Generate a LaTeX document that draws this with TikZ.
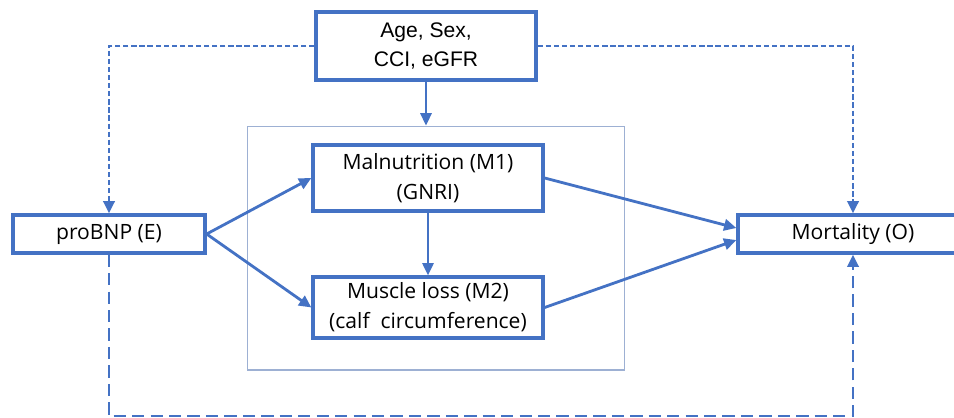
\documentclass[tikz,border=0pt]{standalone}
\usepackage{fontspec}
\setmainfont{Open Sans}
\newfontfamily\conffont{Liberation Sans}
\usetikzlibrary{arrows.meta}
\definecolor{pathblue}{HTML}{4472C4}
\definecolor{framegray}{HTML}{9DB0D3}

\begin{document}
\begin{tikzpicture}[x=0.02cm,y=-0.02cm,
  varbox/.style={draw=pathblue,line width=1.9pt,fill=white,inner sep=0pt,align=center,font=\fontsize{12}{17}\selectfont},
  effect/.style={pathblue,line width=1.6pt,-{Triangle[length=7pt,width=6.5pt]}},
  thinlink/.style={pathblue,line width=1pt,-{Triangle[length=7pt,width=6.5pt]}},
  adjust/.style={pathblue,line width=1.5pt,dash pattern=on 3pt off 1.6pt,-{Triangle[length=7pt,width=6.5pt]}},
  direct/.style={pathblue,line width=1.5pt,dash pattern=on 7pt off 3.5pt,-{Triangle[length=7pt,width=6.5pt]}}]
\useasboundingbox (0,0) rectangle (954,417);
\clip (0,0) rectangle (954,417);
% mediator frame
\node[draw=framegray,line width=0.6pt,minimum width=7.56cm,minimum height=4.88cm] (frame) at (436,248) {};
% variables
\node[varbox,minimum width=4.4cm,minimum height=1.36cm,font=\conffont\fontsize{12}{16}\selectfont] (conf) at (426,46) {Age, Sex,\\CCI, eGFR};
\node[varbox,minimum width=4.6cm,minimum height=1.32cm] (m1) at (428,178) {Malnutrition (M1)\\(GNRI)};
\node[varbox,minimum width=4.6cm,minimum height=1.22cm] (m2) at (428,307.5) {Muscle loss (M2)\\(calf~ circumference)};
\node[varbox,minimum width=3.84cm,minimum height=0.76cm] (expo) at (109,234) {proBNP (E)};
\node[varbox,minimum width=4.6cm,minimum height=0.76cm] (outc) at (853,234) {Mortality (O)};
\coordinate (bottom) at (0,416);
% paths
\draw[thinlink] (conf.south) -- (frame.north -| conf.south);
\draw[thinlink] (m1.south) -- (m2.north);
\draw[effect] (expo.east) -- (m1.west);
\draw[effect] (expo.east) -- (m2.west);
\draw[effect] (m1.east) -- ([yshift=0.12cm]outc.west);
\draw[effect] (m2.east) -- ([yshift=-0.12cm]outc.west);
\draw[adjust] (conf.west) -| (expo.north);
\draw[adjust] (conf.east) -| (outc.north);
\draw[direct] (expo.south) -- (expo.south |- bottom) -| (outc.south);
\end{tikzpicture}
\end{document}
